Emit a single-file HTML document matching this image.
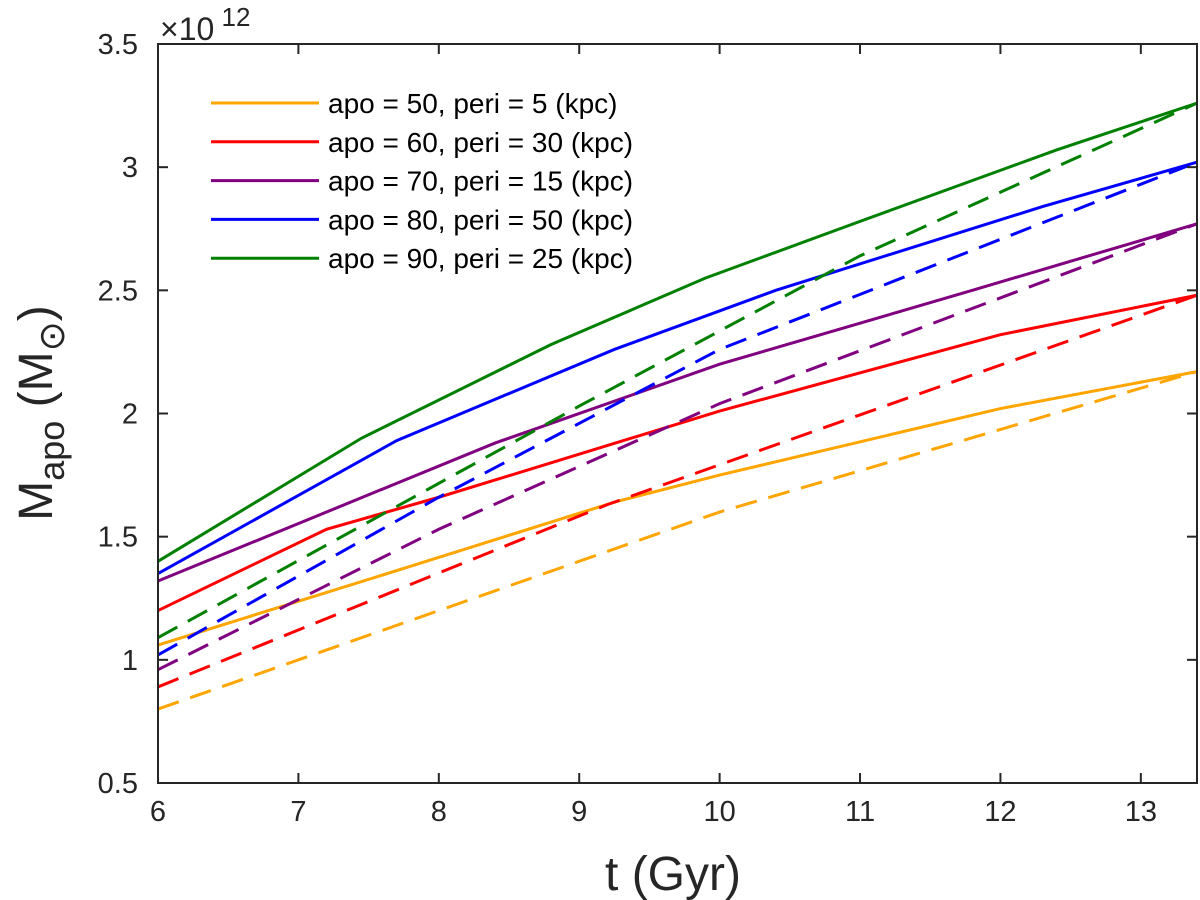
<!DOCTYPE html>
<html><head><meta charset="utf-8"><style>
body{margin:0;background:#fff;}
svg{display:block;font-family:"Liberation Sans",sans-serif;}
</style></head><body>
<svg id="chart" width="1200" height="900"></svg>
<script>
const xTicks=[6,7,8,9,10,11,12,13];
const yTicks=[0.5,1,1.5,2,2.5,3,3.5];
const yTickLabels=["0.5","1","1.5","2","2.5","3","3.5"];
const seriesNames=["apo = 50, peri = 5 (kpc)","apo = 60, peri = 30 (kpc)","apo = 70, peri = 15 (kpc)","apo = 80, peri = 50 (kpc)","apo = 90, peri = 25 (kpc)"];
const seriesColors=["#ffa500","#ff0000","#800080","#0000ff","#008000"];
const solidOrange=[[6,1.06],[7.8,1.38],[9.25,1.64],[10,1.75],[12,2.02],[13.4,2.17]];
const solidRed=[[6,1.20],[7.2,1.53],[8,1.66],[10,2.01],[12,2.32],[13.4,2.48]];
const solidPurple=[[6,1.32],[8.4,1.88],[10,2.20],[11.8,2.50],[13.4,2.77]];
const solidBlue=[[6,1.35],[7.7,1.89],[9.25,2.26],[10.4,2.50],[12.3,2.84],[13.4,3.02]];
const solidGreen=[[6,1.40],[7.45,1.90],[8.8,2.28],[9.9,2.55],[11,2.78],[12.4,3.07],[13.4,3.26]];
const dashOrange=[[6,0.80],[10,1.60],[13.4,2.17]];
const dashRed=[[6,0.89],[9.2,1.63],[13.4,2.48]];
const dashPurple=[[6,0.96],[8,1.53],[10,2.04],[13.4,2.77]];
const dashBlue=[[6,1.02],[8,1.66],[10,2.26],[13.4,3.02]];
const dashGreen=[[6,1.09],[7.5,1.56],[9,2.03],[11,2.64],[13.4,3.26]];
const solids=[solidOrange,solidRed,solidPurple,solidBlue,solidGreen];
const dashes=[dashOrange,dashRed,dashPurple,dashBlue,dashGreen];

const L=158,R=1197,T=44,B=783,xmin=6,xmax=13.4,ymin=0.5,ymax=3.5;
const sx=v=>L+(v-xmin)/(xmax-xmin)*(R-L);
const sy=v=>B-(v-ymin)/(ymax-ymin)*(B-T);
const svg=document.getElementById('chart');
const NS='http://www.w3.org/2000/svg';
function mk(tag,attrs,parent){const e=document.createElementNS(NS,tag);for(const k in attrs)e.setAttribute(k,attrs[k]);(parent||svg).appendChild(e);return e;}

const series=mk('g',{});


function line(data,color,dash,name){
  const p=mk('polyline',{points:data.map(d=>sx(d[0])+','+sy(d[1])).join(' '),fill:'none',stroke:color,'stroke-width':3,'stroke-dasharray':dash?'22,12':'none'},series);
  
  
}
for(let i=0;i<5;i++){
  line(dashes[i],seriesColors[i],true,'dashed-line-'+i);
  line(solids[i],seriesColors[i],false,'solid-line-'+i);
}
const frame=mk('rect',{x:L,y:T,width:R-L,height:B-T,fill:'none',stroke:'#262626','stroke-width':2});


xTicks.forEach(t=>{
  const x=sx(t);
  mk('line',{x1:x,x2:x,y1:B,y2:B-10,stroke:'#262626','stroke-width':2});
  mk('line',{x1:x,x2:x,y1:T,y2:T+10,stroke:'#262626','stroke-width':2});
  const tx=mk('text',{x:x,y:B+38,'text-anchor':'middle','font-size':29,fill:'#262626'});
  tx.textContent=t;
  
  
});
yTicks.forEach((t,i)=>{
  const y=sy(t);
  mk('line',{x1:L,x2:L+10,y1:y,y2:y,stroke:'#262626','stroke-width':2});
  mk('line',{x1:R,x2:R-10,y1:y,y2:y,stroke:'#262626','stroke-width':2});
  const tx=mk('text',{x:L-20,y:y+10,'text-anchor':'end','font-size':29,fill:'#262626'});
  tx.textContent=yTickLabels[i];
  
  
});
const ex=mk('text',{x:160,y:40,'font-size':32,fill:'#262626'});
ex.innerHTML='×10<tspan dy="-14" font-size="26"> 12</tspan>';


const xl=mk('text',{x:673,y:890,'text-anchor':'middle','font-size':48,fill:'#262626'});
xl.textContent='t (Gyr)';


const yl=mk('text',{x:0,y:0,'text-anchor':'middle','font-size':48,fill:'#262626',transform:'translate(52,413) rotate(-90)'});
yl.innerHTML='M<tspan dy="12" font-size="36">apo</tspan><tspan dy="-12"> (M</tspan><tspan dy="12" font-size="36">⊙</tspan><tspan dy="-12">)</tspan>';


seriesNames.forEach((n,i)=>{
  const y=103+i*38.8;
  const g=mk('g',{});
  
  
  mk('line',{x1:211,x2:319,y1:y,y2:y,stroke:seriesColors[i],'stroke-width':3},g);
  const t=mk('text',{x:328,y:y+10,'font-size':28,fill:'#000'},g);
  t.textContent=n;
});
</script>
</body></html>
